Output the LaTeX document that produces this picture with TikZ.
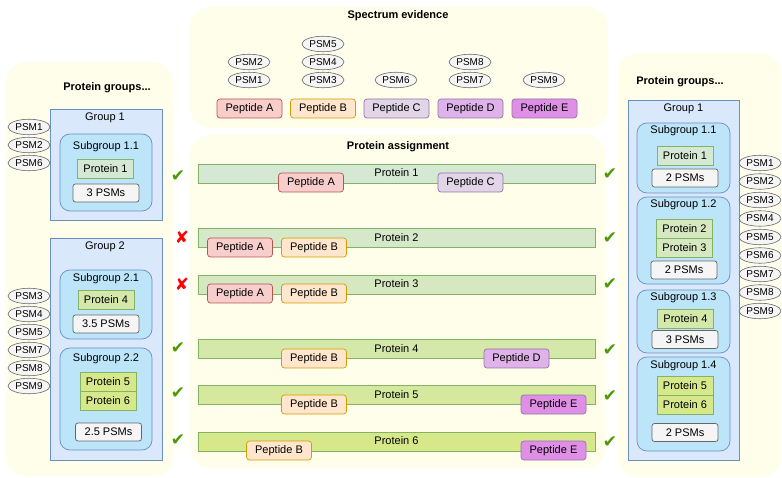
\documentclass[tikz,border=0pt]{standalone}
\usepackage{fontspec}
\setmainfont{Liberation Sans}
\newfontfamily\symfont{DejaVu Sans}
\usetikzlibrary{shapes.geometric}
\definecolor{panelfill}{HTML}{FEFEEA}
\definecolor{grpfill}{HTML}{DAE8FC}
\definecolor{grpdraw}{HTML}{6C8EBF}
\definecolor{subfill}{HTML}{BCE5FA}
\definecolor{psmfill}{HTML}{F5F5F5}
\definecolor{psmdraw}{HTML}{666666}
\definecolor{pAfill}{HTML}{F8CECC}\definecolor{pAdraw}{HTML}{B85450}
\definecolor{pBfill}{HTML}{FFE6CC}\definecolor{pBdraw}{HTML}{D79B00}
\definecolor{pCfill}{HTML}{E1D5E7}\definecolor{pCdraw}{HTML}{9673A6}
\definecolor{pDfill}{HTML}{DFB3E9}
\definecolor{pEfill}{HTML}{E08FE6}
\definecolor{protdraw}{HTML}{82B366}
\definecolor{prA}{HTML}{D5E8D4}
\definecolor{prB}{HTML}{D5E8CA}
\definecolor{prC}{HTML}{D5E8C0}
\definecolor{prD}{HTML}{D4E8AA}
\definecolor{prE}{HTML}{D5E89E}
\definecolor{prF}{HTML}{D6E88A}
\definecolor{okgreen}{HTML}{4D9900}
\definecolor{badred}{HTML}{FF0000}
\tikzset{
  txt/.style={font=\fontsize{11}{13}\selectfont, inner sep=0pt},
  ttl/.style={font=\fontsize{11}{13}\selectfont\bfseries, inner sep=0pt},
  panel/.style={fill=panelfill, draw=none, rounded corners=20pt},
  grp/.style={draw=grpdraw, fill=grpfill, inner sep=0pt, line width=0.7pt},
  subg/.style={draw=grpdraw, fill=subfill, rounded corners=10pt, inner sep=0pt, line width=0.7pt},
  prot/.style={draw=protdraw, fill=#1, minimum width=56pt, minimum height=19pt, inner sep=0pt, font=\fontsize{11}{13}\selectfont, line width=0.7pt},
  cnt/.style={draw=psmdraw, fill=psmfill, rounded corners=2.5pt, minimum width=66pt, minimum height=18pt, inner sep=0pt, font=\fontsize{11}{13}\selectfont, line width=0.7pt},
  psm/.style={ellipse, draw=psmdraw, fill=psmfill, minimum width=42pt, minimum height=15.5pt, inner sep=0pt, font=\fontsize{10}{12}\selectfont, line width=0.6pt},
  pep/.style 2 args={draw=#2, fill=#1, rounded corners=3pt, minimum width=65pt, minimum height=19pt, inner sep=0pt, font=\fontsize{11}{13}\selectfont, line width=0.7pt},
  bar/.style={draw=protdraw, fill=#1, minimum width=397pt, minimum height=19pt, inner sep=0pt, line width=0.7pt},
  okmark/.style={text=okgreen, font=\symfont\fontsize{17}{17}\selectfont, inner sep=0pt},
  badmark/.style={text=badred, font=\symfont\fontsize{17}{17}\selectfont, inner sep=0pt},
}
\begin{document}
\begin{tikzpicture}[x=1pt,y=-1pt]
\useasboundingbox (0,0) rectangle (782,478);
% panels
\fill[panel] (6,62) rectangle (173,476);
\fill[panel] (190,7) rectangle (608,128);
\fill[panel] (190,135) rectangle (606,468);
\fill[panel] (618,53) rectangle (781,477);

% ---------- Spectrum evidence ----------
\node[ttl] (tspec) at (398,16) {Spectrum evidence};
\node[psm] (e2) at (249,62) {PSM2};
\node[psm] (e1) at (249,80) {PSM1};
\node[psm] (e5) at (323,44) {PSM5};
\node[psm] (e4) at (323,62) {PSM4};
\node[psm] (e3) at (323,80) {PSM3};
\node[psm] (e6) at (396,80) {PSM6};
\node[psm] (e8) at (470,62) {PSM8};
\node[psm] (e7) at (470,80) {PSM7};
\node[psm] (e9) at (544,80) {PSM9};
\node[pep={pAfill}{pAdraw}] (sA) at (249.5,108.5) {Peptide A};
\node[pep={pBfill}{pBdraw}] (sB) at (323,108.5) {Peptide B};
\node[pep={pCfill}{pCdraw}] (sC) at (396.5,108.5) {Peptide C};
\node[pep={pDfill}{pCdraw}] (sD) at (470.5,108.5) {Peptide D};
\node[pep={pEfill}{pCdraw}] (sE) at (544.5,108.5) {Peptide E};

% ---------- Protein assignment ----------
\node[ttl] (tassign) at (398,147) {Protein assignment};
\node[bar=prA] (b1) at (396.5,173.5) {};
\node[txt] (b1t) at (396.5,173) {Protein 1};
\node[pep={pAfill}{pAdraw}] (b1A) at (311,182.5) {Peptide A};
\node[pep={pCfill}{pCdraw}] (b1C) at (470.5,182.5) {Peptide C};

\node[bar=prB] (b2) at (396.5,238) {};
\node[txt] (b2t) at (396.5,238) {Protein 2};
\node[pep={pAfill}{pAdraw}] (b2A) at (240,247.5) {Peptide A};
\node[pep={pBfill}{pBdraw}] (b2B) at (314,247.5) {Peptide B};

\node[bar=prC] (b3) at (396.5,284.5) {};
\node[txt] (b3t) at (396.5,284) {Protein 3};
\node[pep={pAfill}{pAdraw}] (b3A) at (240,293.5) {Peptide A};
\node[pep={pBfill}{pBdraw}] (b3B) at (314,293.5) {Peptide B};

\node[bar=prD] (b4) at (396.5,349) {};
\node[txt] (b4t) at (396.5,348.5) {Protein 4};
\node[pep={pBfill}{pBdraw}] (b4B) at (314,358.5) {Peptide B};
\node[pep={pDfill}{pCdraw}] (b4D) at (516.5,358.5) {Peptide D};

\node[bar=prE] (b5) at (396.5,395) {};
\node[txt] (b5t) at (396.5,395) {Protein 5};
\node[pep={pBfill}{pBdraw}] (b5B) at (314,404.5) {Peptide B};
\node[pep={pEfill}{pCdraw}] (b5E) at (553.5,404.5) {Peptide E};

\node[bar=prF] (b6) at (396.5,441.5) {};
\node[txt] (b6t) at (396.5,441) {Protein 6};
\node[pep={pBfill}{pBdraw}] (b6B) at (279,450.5) {Peptide B};
\node[pep={pEfill}{pCdraw}] (b6E) at (553.5,450.5) {Peptide E};

% marks
\node[okmark] (l1) at (178,176) {✔};
\node[badmark] (l2) at (182,237) {✘};
\node[badmark] (l3) at (182,284) {✘};
\node[okmark] (l4) at (178,348) {✔};
\node[okmark] (l5) at (178,393) {✔};
\node[okmark] (l6) at (178,440) {✔};
\node[okmark] (r1) at (610,174) {✔};
\node[okmark] (r2) at (610,238) {✔};
\node[okmark] (r3) at (610,284) {✔};
\node[okmark] (r4) at (610,350) {✔};
\node[okmark] (r5) at (610,396) {✔};
\node[okmark] (r6) at (610,442) {✔};

% ---------- Left protein groups ----------
\node[ttl] (tleft) at (107,88) {Protein groups...};
\node[grp, minimum width=112pt, minimum height=111pt] (lg1) at (106,164.5) {};
\node[txt] (lg1t) at (105,118) {Group 1};
\node[subg, minimum width=92pt, minimum height=77pt] (ls11) at (106,172.5) {};
\node[txt] (ls11t) at (106,147) {Subgroup 1.1};
\node[prot=prA] (lp1) at (105.5,169) {Protein 1};
\node[cnt] (lc11) at (106,193) {3 PSMs};

\node[grp, minimum width=112pt, minimum height=222pt] (lg2) at (106,349) {};
\node[txt] (lg2t) at (105,247) {Group 2};
\node[subg, minimum width=92pt, minimum height=69pt] (ls21) at (106,304.5) {};
\node[txt] (ls21t) at (106,279) {Subgroup 2.1};
\node[prot=prD] (lp4) at (106,299.5) {Protein 4};
\node[cnt] (lc21) at (106,324) {3.5 PSMs};
\node[subg, minimum width=92pt, minimum height=102pt] (ls22) at (106,399) {};
\node[txt] (ls22t) at (106,359) {Subgroup 2.2};
\node[prot=prF] (lp5) at (108,381.5) {Protein 5};
\node[prot=prF] (lp6) at (108,400.5) {Protein 6};
\node[cnt] (lc22) at (108.5,432) {2.5 PSMs};

\node[psm] (la1) at (29,127) {PSM1};
\node[psm] (la2) at (29,145) {PSM2};
\node[psm] (la6) at (29,163) {PSM6};
\node[psm] (lb3) at (29,296) {PSM3};
\node[psm] (lb4) at (29,314) {PSM4};
\node[psm] (lb5) at (29,332) {PSM5};
\node[psm] (lb7) at (29,350) {PSM7};
\node[psm] (lb8) at (29,368) {PSM8};
\node[psm] (lb9) at (29,386) {PSM9};

% ---------- Right protein groups ----------
\node[ttl] (tright) at (680,82) {Protein groups...};
\node[grp, minimum width=111pt, minimum height=360pt] (rg1) at (683.5,280) {};
\node[txt] (rg1t) at (683.5,109) {Group 1};
\node[subg, minimum width=93pt, minimum height=70pt] (rs11) at (683.5,158) {};
\node[txt] (rs11t) at (683.5,131) {Subgroup 1.1};
\node[prot=prA] (rp1) at (685,155.5) {Protein 1};
\node[cnt] (rc11) at (685,178) {2 PSMs};
\node[subg, minimum width=93pt, minimum height=87pt] (rs12) at (683.5,240.5) {};
\node[txt] (rs12t) at (683.5,205) {Subgroup 1.2};
\node[prot=prC] (rp2) at (684.5,228.5) {Protein 2};
\node[prot=prC] (rp3) at (684.5,247.5) {Protein 3};
\node[cnt] (rc12) at (684,270) {2 PSMs};
\node[subg, minimum width=93pt, minimum height=63pt] (rs13) at (683.5,321.5) {};
\node[txt] (rs13t) at (683.5,298) {Subgroup 1.3};
\node[prot=prD] (rp4) at (685.5,318.5) {Protein 4};
\node[cnt] (rc13) at (685,339.5) {3 PSMs};
\node[subg, minimum width=93pt, minimum height=94pt] (rs14) at (683.5,404) {};
\node[txt] (rs14t) at (683.5,366) {Subgroup 1.4};
\node[prot=prF] (rp5) at (685,386) {Protein 5};
\node[prot=prF] (rp6) at (685,405) {Protein 6};
\node[cnt] (rc14) at (685,432.5) {2 PSMs};

\foreach \i/\y in {1/163,2/181.5,3/200,4/218.5,5/237,6/255.5,7/274,8/292.5,9/311}{
  \node[psm] (rq\i) at (760,\y) {PSM\i};
}
\end{tikzpicture}
\end{document}
